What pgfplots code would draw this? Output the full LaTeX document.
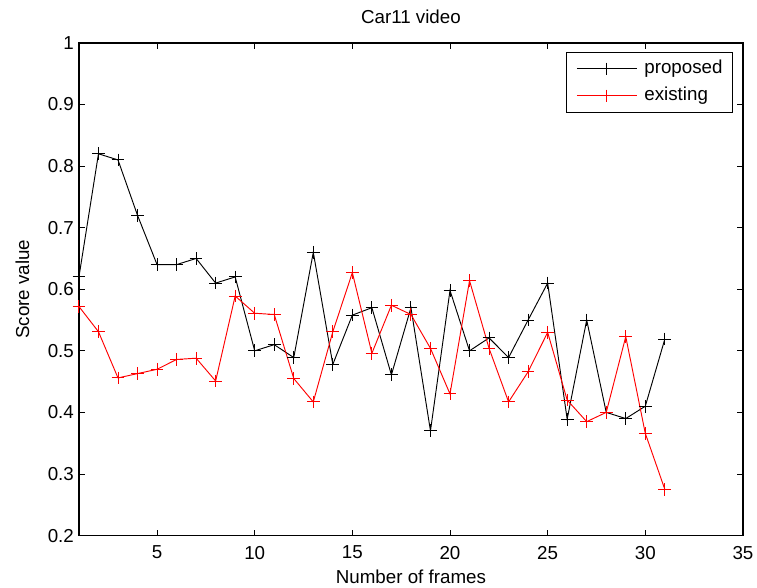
\documentclass[border=0pt]{standalone}
\usepackage{fontspec}
\setmainfont{Liberation Sans}
\usepackage{pgfplots}
\pgfplotsset{compat=1.18}
\begin{document}
\begin{tikzpicture}
\begin{axis}[
  scale only axis,
  width=354.1pt, height=262.7pt,
  xmin=1, xmax=35, ymin=0.2, ymax=1,
  xtick={5,10,...,35},
  ytick={0.2,0.3,...,1.0},
  yticklabel style={xshift=0.8pt, /pgf/number format/.cd, fixed, precision=1},
  /pgf/number format/assume math mode=true,
  tick align=inside,
  tick pos=both,
  major tick length=3pt,
  axis line style={line width=0.8pt},
  tick style={black, line width=0.5pt},
  title={Car11 video},
  xlabel={Number of frames},
  ylabel={Score value},
  title style={yshift=1pt},
  xticklabel style={yshift=-2pt},
  xlabel style={yshift=1.2pt},
  ylabel style={yshift=3pt},
  legend style={at={(0.985,0.9817)}, anchor=north east, draw=black, line width=0.5pt,
    font=\normalsize, nodes={inner sep=0pt, text height=7pt, text depth=2pt},
    inner xsep=5.3pt, inner ysep=4.3pt, row sep=5.4pt, column sep=3.7pt},
  legend cell align=left,
  legend image code/.code={\draw[mark repeat=2,mark phase=2,#1] plot coordinates {(0pt,0pt) (16pt,0pt) (32pt,0pt)};},
]
\addplot[black, line width=0.5pt, mark=+, mark size=3.4pt] coordinates {
(1,0.62) (2,0.82) (3,0.81) (4,0.72) (5,0.64) (6,0.64) (7,0.65) (8,0.61) (9,0.62) (10,0.50)
(11,0.51) (12,0.489) (13,0.66) (14,0.478) (15,0.558) (16,0.570) (17,0.461) (18,0.570) (19,0.370) (20,0.598)
(21,0.500) (22,0.521) (23,0.489) (24,0.550) (25,0.610) (26,0.389) (27,0.550) (28,0.400) (29,0.390) (30,0.410)
(31,0.519)
};
\addlegendentry{proposed}
\addplot[red, line width=0.5pt, mark=+, mark size=3.4pt] coordinates {
(1,0.572) (2,0.531) (3,0.456) (4,0.463) (5,0.470) (6,0.486) (7,0.488) (8,0.451) (9,0.589) (10,0.561)
(11,0.559) (12,0.455) (13,0.417) (14,0.531) (15,0.627) (16,0.496) (17,0.574) (18,0.559) (19,0.504) (20,0.430)
(21,0.614) (22,0.504) (23,0.417) (24,0.466) (25,0.530) (26,0.420) (27,0.385) (28,0.400) (29,0.523) (30,0.366)
(31,0.275)
};
\addlegendentry{existing}
\end{axis}
\pgfresetboundingbox
\path[use as bounding box] ([xshift=-42.1pt,yshift=-27.5pt]current axis.south west) rectangle ([xshift=7.5pt,yshift=22.9pt]current axis.north east);
\end{tikzpicture}
\end{document}
